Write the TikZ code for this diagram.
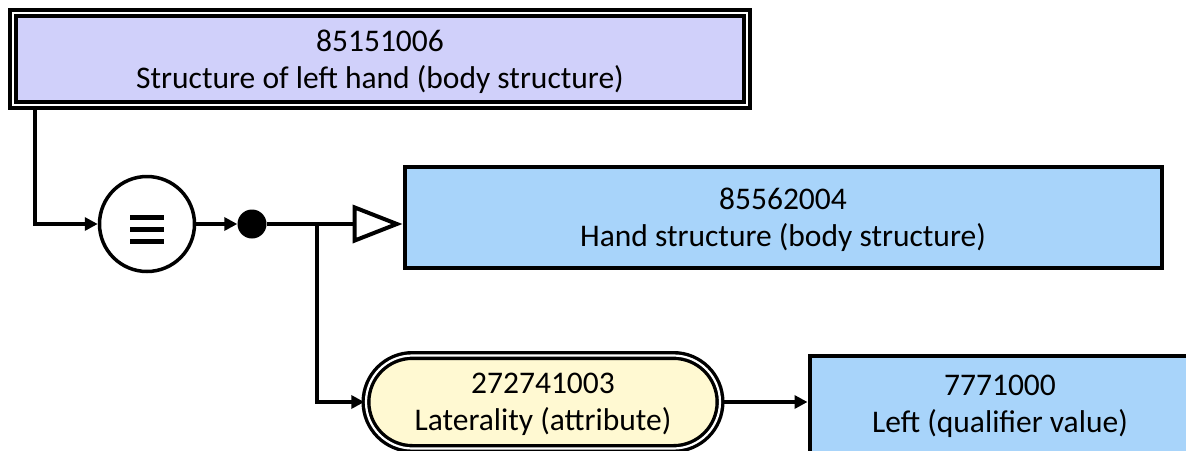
\documentclass[tikz,border=0pt]{standalone}
\usepackage{fontspec}
\setmainfont{Carlito}
\usetikzlibrary{arrows.meta,shapes.misc,calc}
\definecolor{defcol}{RGB}{208,208,250}
\definecolor{primcol}{RGB}{168,212,250}
\definecolor{attrcol}{RGB}{255,249,210}
\tikzset{
  boxtext/.style={align=center, inner sep=0, text depth=0pt, font=\fontsize{31.5}{37}\selectfont},
  defbox/.style={boxtext, rectangle, draw, fill=defcol, line width=3.8,
    double=white, double distance=2.2, minimum width=734, minimum height=92},
  primbox/.style={boxtext, rectangle, draw, fill=primcol, line width=4,
    minimum width=757, minimum height=101},
  attrbox/.style={boxtext, rounded rectangle, draw, fill=attrcol, line width=3.4,
    double=white, double distance=2.2, minimum width=354, minimum height=93},
  equiv/.style={circle, draw, line width=3.5, fill=white, minimum size=95, inner sep=0},
  junction/.style={circle, fill=black, minimum size=29, inner sep=0},
  conn/.style={line width=4, -{Triangle[length=13pt,width=13pt]}},
  isa/.style={line width=4, -{Triangle[open,length=50pt,width=38pt,fill=white]}}
}
\begin{document}
\begin{tikzpicture}[x=1pt,y=-1pt]
        \useasboundingbox (0,0) rectangle (1186,450);
        \clip (0,0) rectangle (1186,450);
        %Defined concept
        \node[defbox] (lefthand) at (380,59) {85151006\\Structure of left hand (body structure)};
        %Equivalence
        \node[equiv] (eq) at (147,224) {};
        \foreach \dy in {-7,5,17}
          \draw[line width=5] ($(eq)+(-17,\dy)$) -- ++(34,0);
        %Group
        \node[junction] (jn) at (252,224) {};
        \coordinate (br) at (317,224);
        %Parent
        \node[primbox] (hand) at (783,217) {85562004\\Hand structure (body structure)};
        %Attribute
        \node[attrbox] (lat) at (543,402) {272741003\\Laterality (attribute)};
        %Value
        \node[primbox, minimum width=381, minimum height=97] (leftval) at (1000,404)
          {7771000\\Left (qualifier value)};
        %Connectors
        \draw[conn] ([xshift=24pt]lefthand.south west) |- (eq);
        \draw[conn] (eq) -- (jn);
        \draw[isa] (jn) -- (jn -| hand.west);
        \draw[conn] (br) |- (lat);
        \draw[conn] (lat.east) -- (lat.east -| leftval.west);
\end{tikzpicture}
\end{document}
